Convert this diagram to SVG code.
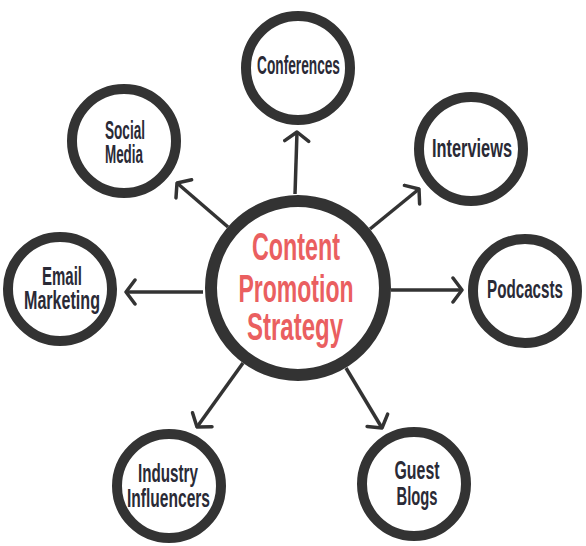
<svg xmlns="http://www.w3.org/2000/svg" width="586" height="546" viewBox="0 0 586 546">
<defs>
<style>
.ring{fill:#fff;stroke:#333;stroke-width:10}
.big{fill:#fff;stroke:#333;stroke-width:12}
.lbl{font-family:"Liberation Sans","DejaVu Sans Condensed",sans-serif;font-weight:bold;font-size:25px;fill:#2a2a36;text-anchor:middle}
.main{font-family:"Liberation Sans","DejaVu Sans Condensed",sans-serif;font-weight:bold;font-size:39px;fill:#ea5f60;text-anchor:middle}
.conn line{stroke:#333;stroke-width:3.5;marker-end:url(#chev)}
</style>
<marker id="chev" viewBox="0 0 15 28" refX="13" refY="14" markerWidth="15" markerHeight="28" markerUnits="userSpaceOnUse" orient="auto">
<path d="M4,2 L13,14 L4,26" fill="none" stroke="#333" stroke-width="3.5" stroke-linecap="round" stroke-linejoin="round"/>
</marker>
</defs>
<rect width="586" height="546" fill="#fff"/>
<g id="connectors" class="conn">
<line x1="295" y1="194" x2="297" y2="132"/>
<line x1="370" y1="229" x2="419" y2="189"/>
<line x1="391" y1="290" x2="462" y2="290"/>
<line x1="346" y1="368" x2="382" y2="428"/>
<line x1="243" y1="363" x2="197" y2="427"/>
<line x1="203" y1="292" x2="126" y2="292"/>
<line x1="228" y1="227" x2="177" y2="183"/>
</g>
<g id="center">
<circle class="big" cx="298" cy="288" r="87"/>
<text class="main" x="296" y="260" textLength="88" lengthAdjust="spacingAndGlyphs">Content</text>
<text class="main" x="296" y="302" textLength="115" lengthAdjust="spacingAndGlyphs">Promotion</text>
<text class="main" x="295" y="340" textLength="96" lengthAdjust="spacingAndGlyphs">Strategy</text>
</g>
<g id="conferences">
<circle class="ring" cx="298" cy="68" r="52"/>
<text class="lbl" x="298.5" y="74" textLength="83" lengthAdjust="spacingAndGlyphs">Conferences</text>
</g>
<g id="interviews">
<circle class="ring" cx="471" cy="149" r="52"/>
<text class="lbl" x="472" y="157" textLength="80" lengthAdjust="spacingAndGlyphs">Interviews</text>
</g>
<g id="podcasts">
<circle class="ring" cx="525" cy="291" r="52"/>
<text class="lbl" x="525" y="298" textLength="76" lengthAdjust="spacingAndGlyphs">Podcacsts</text>
</g>
<g id="guest-blogs">
<circle class="ring" cx="414" cy="484" r="52"/>
<text class="lbl" x="417" y="479" textLength="45" lengthAdjust="spacingAndGlyphs">Guest</text>
<text class="lbl" x="417" y="505" textLength="41" lengthAdjust="spacingAndGlyphs">Blogs</text>
</g>
<g id="industry-influencers">
<circle class="ring" cx="169" cy="486" r="52"/>
<text class="lbl" x="168" y="482" textLength="60" lengthAdjust="spacingAndGlyphs">Industry</text>
<text class="lbl" x="168.5" y="507" textLength="83" lengthAdjust="spacingAndGlyphs">Influencers</text>
</g>
<g id="email-marketing">
<circle class="ring" cx="60" cy="289" r="52"/>
<text class="lbl" x="62" y="285" textLength="40" lengthAdjust="spacingAndGlyphs">Email</text>
<text class="lbl" x="62" y="309" textLength="76" lengthAdjust="spacingAndGlyphs">Marketing</text>
</g>
<g id="social-media">
<circle class="ring" cx="124" cy="141" r="52"/>
<text class="lbl" x="125" y="139" textLength="40" lengthAdjust="spacingAndGlyphs">Social</text>
<text class="lbl" x="124" y="163" textLength="38" lengthAdjust="spacingAndGlyphs">Media</text>
</g>
</svg>
